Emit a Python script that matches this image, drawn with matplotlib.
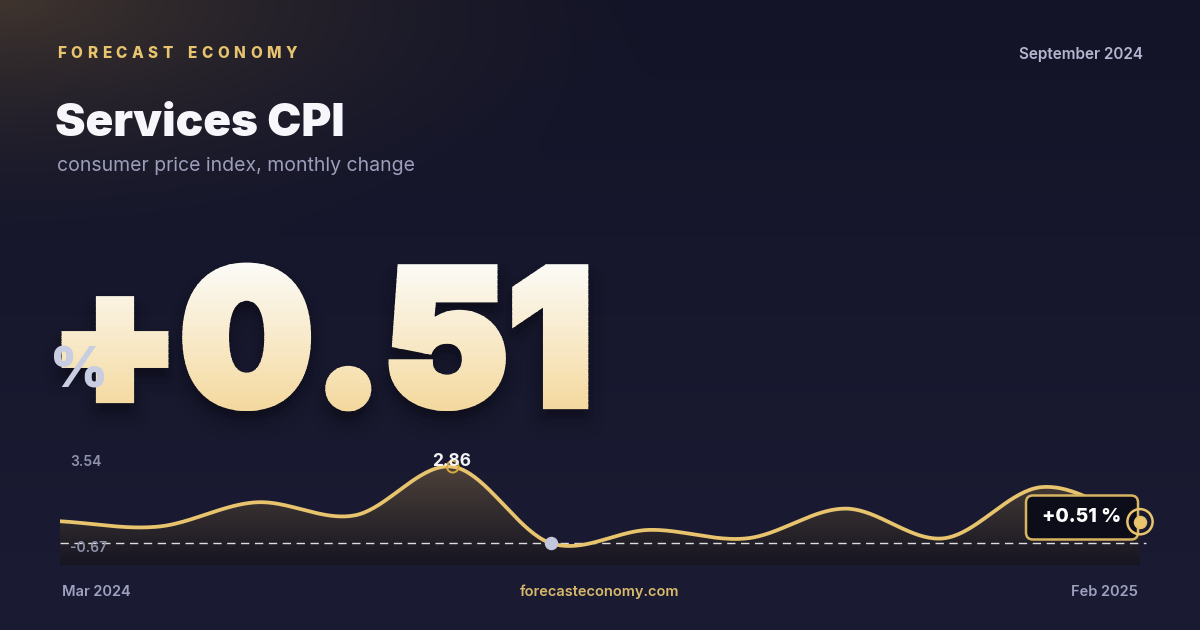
import matplotlib
matplotlib.use("Agg")
import matplotlib.pyplot as plt
import numpy as np
from matplotlib.patches import FancyBboxPatch
from matplotlib.patheffects import AbstractPathEffect
from matplotlib.transforms import Affine2D, Bbox

# data
months = ["Mar 2024", "Apr 2024", "May 2024", "Jun 2024", "Jul 2024", "Aug 2024",
          "Sep 2024", "Oct 2024", "Nov 2024", "Dec 2024", "Jan 2025", "Feb 2025"]
values = [0.53, 0.30, 1.34, 0.78, 2.86, -0.41, 0.16, -0.20, 1.07, -0.20, 1.99, 0.51]
scale_max_label = "3.54"
scale_min_label = "-0.67"
brand = "FORECAST ECONOMY"
date_label = "September 2024"
title = "Services CPI"
subtitle = "consumer price index, monthly change"
headline = "+0.51"
site = "forecasteconomy.com"

GOLD = "#e8c46e"
FONT = "Inter"

W, H = 1200, 630


class GradientText(AbstractPathEffect):
    """fills and thickens a text path with a vertical gradient, plus a soft shadow"""

    def __init__(self, y_top, y_bot, c_top, c_bot, lw=7, bands=60):
        super().__init__()
        self.y_top, self.y_bot = y_top, y_bot
        self.c_top, self.c_bot = np.array(c_top), np.array(c_bot)
        self.lw, self.bands = lw, bands

    def draw_path(self, renderer, gc, tpath, affine, rgbFace=None):
        for off, slw, a in [(14, 30, 0.035), (12, 22, 0.04), (10, 15, 0.05), (8, 9, 0.06)]:
            gc0 = renderer.new_gc()
            gc0.copy_properties(gc)
            gc0.set_foreground("black")
            gc0.set_alpha(a)
            gc0.set_linewidth(slw)
            gc0.set_joinstyle("round")
            renderer.draw_path(gc0, tpath, affine + Affine2D().translate(0, -off), (0, 0, 0))
            gc0.restore()
        step = (self.y_top - self.y_bot) / self.bands
        for i in range(self.bands + 8):
            f = min(max((i + 0.5) / self.bands, 0), 1)
            c = tuple(self.c_top * (1 - f) + self.c_bot * f)
            hi = self.y_top - i * step if i else self.y_top + 40
            lo = self.y_top - (i + 1) * step - 0.6
            gc0 = renderer.new_gc()
            gc0.copy_properties(gc)
            gc0.set_clip_rectangle(Bbox([[0, lo], [W, hi]]))
            gc0.set_foreground(c)
            gc0.set_linewidth(self.lw)
            gc0.set_joinstyle("miter")
            renderer.draw_path(gc0, tpath, affine, c)
            gc0.restore()


fig = plt.figure(figsize=(12, 6.3), dpi=100)
ax = fig.add_axes([0, 0, 1, 1])
ax.set_xlim(0, W)
ax.set_ylim(H, 0)
ax.axis("off")

# background: navy with warm glow top-left
yy, xx = np.mgrid[0:H, 0:W]
base_top = np.array([19, 20, 39]) / 255
base_bot = np.array([27, 28, 52]) / 255
t = (yy / H)[..., None]
bg = base_top * (1 - t) + base_bot * t
d = np.sqrt((xx * 0.75) ** 2 + (yy * 2.0) ** 2)
glow = np.clip(1 - d / 520, 0, 1)[..., None] ** 1.7
warm = np.array([64, 53, 46]) / 255
bg = bg * (1 - glow) + warm * glow
ax.imshow(bg, extent=(0, W, H, 0), origin="upper", zorder=0, aspect="auto")

# header
renderer = fig.canvas.get_renderer()
x = 57
for ch in brand:
    if ch == " ":
        x += 10
        continue
    tt = ax.text(x, 53, ch, color=GOLD, fontsize=11, fontweight="heavy",
                 family=FONT, va="center", ha="left", zorder=5)
    x += tt.get_window_extent(renderer).width + 4.6

ax.text(1143, 54, date_label, color="#b4b6cf", fontsize=11, fontweight="semibold",
        family=FONT, ha="right", va="center", zorder=5)
ax.text(55, 124, title, color="#f7f7fb", fontsize=33, fontweight="black",
        family=FONT, ha="left", va="center", zorder=5)
ax.text(57, 166, subtitle, color="#9c9eba", fontsize=14,
        family=FONT, ha="left", va="center", zorder=5)

# big headline, real text with gradient path effect (display y = H - pixel y)
big = ax.text(50, 405, headline, color="#f8ecd0", fontsize=135, fontweight="black",
              family=FONT, ha="left", va="baseline", zorder=4)
big.set_path_effects([GradientText(H - 262, H - 410, (252 / 255, 251 / 255, 248 / 255),
                                   (244 / 255, 217 / 255, 158 / 255), lw=6)])

ax.text(50, 372, "%", color="#c9cde2", fontsize=40, fontweight="black",
        family=FONT, ha="left", va="center", zorder=6)


# sparkline
def catmull_rom(xs, ys, n=40):
    xs = np.asarray(xs, float)
    ys = np.asarray(ys, float)
    px = np.concatenate([[2 * xs[0] - xs[1]], xs, [2 * xs[-1] - xs[-2]]])
    py = np.concatenate([[2 * ys[0] - ys[1]], ys, [2 * ys[-1] - ys[-2]]])
    ox, oy = [], []
    s = np.linspace(0, 1, n, endpoint=False)
    for i in range(1, len(px) - 2):
        for p, out in ((px, ox), (py, oy)):
            p0, p1, p2, p3 = p[i - 1], p[i], p[i + 1], p[i + 2]
            out.extend(0.5 * (2 * p1 + (-p0 + p2) * s + (2 * p0 - 5 * p1 + 4 * p2 - p3) * s ** 2
                              + (-p0 + 3 * p1 - 3 * p2 + p3) * s ** 3))
    ox.append(xs[-1])
    oy.append(ys[-1])
    return np.array(ox), np.array(oy)


sax = fig.add_axes([60 / W, (H - 565) / H, 1080 / W, 117 / H])
sax.patch.set_alpha(0)
sax.axis("off")
idx = np.arange(len(values))
lo, hi = -1.34, 3.66
n = len(values) - 1

cx, cy = catmull_rom(idx, values)
poly = sax.fill_between(cx, cy, lo, color="none", lw=0)
fg = np.linspace(0, 1, 200)[:, None]
ftop = np.array([78, 66, 58]) / 255
fbot = np.array([22, 21, 34]) / 255
fgrad = (ftop * (1 - fg) + fbot * fg)[:, None, :] * np.ones((1, 2, 1))
fim = sax.imshow(fgrad, extent=(0, n, lo, max(values) + 0.1),
                 origin="upper", aspect="auto", zorder=1)
fim.set_clip_path(poly.get_paths()[0], transform=sax.transData)
sax.set_xlim(0, n)
sax.set_ylim(lo, hi)

sax.plot(cx, cy, color=GOLD, lw=2.7, zorder=3, solid_capstyle="round")
sax.plot([0, n + 0.06], [min(values)] * 2, color="white", lw=1,
         dashes=(6, 4), alpha=0.85, zorder=2, clip_on=False)

imax = int(np.argmax(values))
imin = int(np.argmin(values))
sax.scatter([imax], [values[imax]], s=70, facecolor="none", edgecolor="#d9a93c",
            lw=1.4, zorder=5)
sax.scatter([imin], [values[imin]], s=75, color="#c3c6dc", zorder=5)

# overlay for labels above the sparkline
top = fig.add_axes([0, 0, 1, 1])
top.set_xlim(0, W)
top.set_ylim(H, 0)
top.axis("off")
top.patch.set_alpha(0)

top.text(452, 462, f"{values[imax]:.2f}", color="#f3f3f6", fontsize=12.5,
         fontweight="bold", family=FONT, ha="center", va="center", zorder=8)
top.text(70, 462, scale_max_label, color="#8e92ad", fontsize=10, fontweight="semibold",
         family=FONT, ha="left", va="center", zorder=8)
top.text(70, 548, scale_min_label, color="#8e92ad", fontsize=10, fontweight="semibold",
         family=FONT, ha="left", va="center", zorder=8)

box = FancyBboxPatch((1026, 495.5), 112, 44, boxstyle="round,pad=0,rounding_size=7",
                     fc="#0c0d19", ec="#d7b462", lw=1.8, zorder=8)
top.add_patch(box)
top.text(1082, 517, f"+{values[-1]:.2f} %", color="white", fontsize=14,
         fontweight="heavy", family=FONT, ha="center", va="center", zorder=9)

end_xy = top.transData.inverted().transform(sax.transData.transform((n, values[-1])))
top.scatter([end_xy[0]], [end_xy[1]], s=330, facecolor="none", edgecolor=GOLD,
            lw=1.8, zorder=10)
top.scatter([end_xy[0]], [end_xy[1]], s=75, color=GOLD, zorder=11)

# footer
top.text(62, 592, months[0], color="#9ea2c0", fontsize=10.5, fontweight="semibold",
         family=FONT, ha="left", va="center")
top.text(600, 592, site, color="#d8b96b", fontsize=10.5, fontweight="semibold",
         family=FONT, ha="center", va="center")
top.text(1138, 592, months[-1], color="#9ea2c0", fontsize=10.5, fontweight="semibold",
         family=FONT, ha="right", va="center")

fig.savefig("out.png", dpi=100, facecolor="#181a30")
